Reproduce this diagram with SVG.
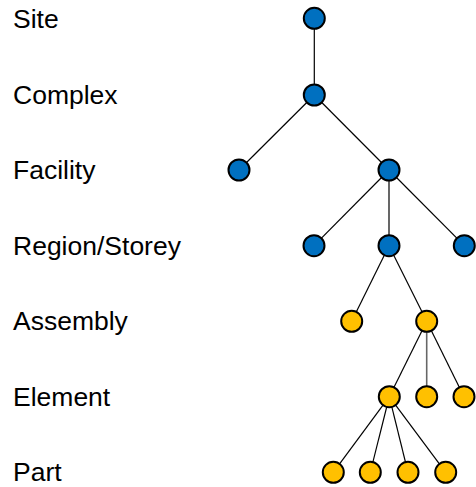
<svg xmlns="http://www.w3.org/2000/svg" width="476" height="487" viewBox="0 0 476 487">
<style>
text{font-family:"Liberation Sans",Arial,sans-serif;font-size:26.5px;fill:#000}
line{stroke:#000;stroke-width:1.2}
.b{fill:#0070C0;stroke:#000;stroke-width:2}
.y{fill:#FFC000;stroke:#000;stroke-width:2}
</style>
<rect width="476" height="487" fill="#fff"/>
<g id="labels">
<text x="13" y="28">Site</text>
<text x="13" y="103.5">Complex</text>
<text x="13" y="179">Facility</text>
<text x="13" y="254.5">Region/Storey</text>
<text x="13" y="330">Assembly</text>
<text x="13" y="405.5">Element</text>
<text x="13" y="481">Part</text>
</g>
<g id="connectors">
<line x1="314.3" y1="18.3" x2="314.3" y2="95"/>
<line x1="314.3" y1="95" x2="239" y2="170"/>
<line x1="314.3" y1="95" x2="389" y2="170"/>
<line x1="389" y1="170" x2="314" y2="245.7"/>
<line x1="389" y1="170" x2="389" y2="245.7"/>
<line x1="389" y1="170" x2="464.3" y2="245.7"/>
<line x1="389" y1="245.7" x2="351.7" y2="321.3"/>
<line x1="389" y1="245.7" x2="426.7" y2="321.3"/>
<line x1="426.7" y1="321.3" x2="389.3" y2="396.7"/>
<line x1="426.7" y1="321.3" x2="426.7" y2="396.7" style="stroke:#666;stroke-width:1.6"/>
<line x1="426.7" y1="321.3" x2="464" y2="396.7"/>
<line x1="389.3" y1="396.7" x2="333.3" y2="472.3"/>
<line x1="389.3" y1="396.7" x2="370.3" y2="472.3"/>
<line x1="389.3" y1="396.7" x2="408" y2="472.3"/>
<line x1="389.3" y1="396.7" x2="445.7" y2="472.3"/>
</g>
<g id="site"><circle class="b" cx="314.3" cy="18.3" r="10.5"/></g>
<g id="complex"><circle class="b" cx="314.3" cy="95" r="10.5"/></g>
<g id="facility1"><circle class="b" cx="239" cy="170" r="10.5"/></g>
<g id="facility2"><circle class="b" cx="389" cy="170" r="10.5"/></g>
<g id="region1"><circle class="b" cx="314" cy="245.7" r="10.5"/></g>
<g id="region2"><circle class="b" cx="389" cy="245.7" r="10.5"/></g>
<g id="region3"><circle class="b" cx="464.3" cy="245.7" r="10.5"/></g>
<g id="assembly1"><circle class="y" cx="351.7" cy="321.3" r="10.5"/></g>
<g id="assembly2"><circle class="y" cx="426.7" cy="321.3" r="10.5"/></g>
<g id="element1"><circle class="y" cx="389.3" cy="396.7" r="10.5"/></g>
<g id="element2"><circle class="y" cx="426.7" cy="396.7" r="10.5"/></g>
<g id="element3"><circle class="y" cx="464" cy="396.7" r="10.5"/></g>
<g id="part1"><circle class="y" cx="333.3" cy="472.3" r="10.5"/></g>
<g id="part2"><circle class="y" cx="370.3" cy="472.3" r="10.5"/></g>
<g id="part3"><circle class="y" cx="408" cy="472.3" r="10.5"/></g>
<g id="part4"><circle class="y" cx="445.7" cy="472.3" r="10.5"/></g>
</svg>
